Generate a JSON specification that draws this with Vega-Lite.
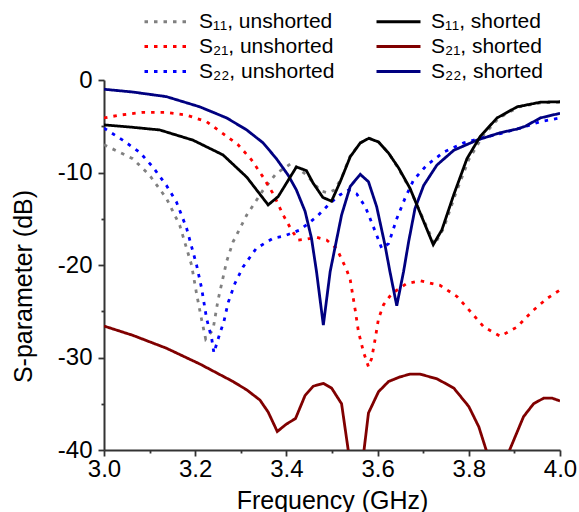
{
  "$schema": "https://vega.github.io/schema/vega-lite/v6.json",
  "autosize": {"type": "none"},
  "width": 456,
  "height": 370,
  "padding": {"left": 104, "top": 80, "right": 19, "bottom": 62},
  "config": {
    "view": {"stroke": null},
    "font": "Liberation Sans",
    "axis": {"grid": false, "domainColor": "#333333", "domainWidth": 2, "tickColor": "#333333", "tickWidth": 1.8, "labelColor": "#000000", "titleColor": "#000000", "labelFont": "Liberation Sans", "titleFont": "Liberation Sans", "titleFontWeight": "normal"},
    "legend": {"orient": "none", "legendX": 50, "legendY": -71, "columns": 2, "title": null, "symbolType": "M-2,0H2", "symbolSize": 484, "symbolStrokeWidth": 3, "symbolFillColor": "transparent", "labelFontSize": 21, "labelFont": "Liberation Sans", "labelColor": "#000000", "labelOffset": 20, "columnPadding": 35, "rowPadding": 2, "padding": 0}
  },
  "datasets": {
    "curves": [
      {"series": "S₁₁, unshorted", "f": 3.000, "db": -7.0},
      {"series": "S₁₁, unshorted", "f": 3.063, "db": -8.5},
      {"series": "S₁₁, unshorted", "f": 3.100, "db": -10.3},
      {"series": "S₁₁, unshorted", "f": 3.137, "db": -12.8},
      {"series": "S₁₁, unshorted", "f": 3.166, "db": -15.7},
      {"series": "S₁₁, unshorted", "f": 3.192, "db": -20.0},
      {"series": "S₁₁, unshorted", "f": 3.203, "db": -23.1},
      {"series": "S₁₁, unshorted", "f": 3.214, "db": -25.9},
      {"series": "S₁₁, unshorted", "f": 3.223, "db": -28.0},
      {"series": "S₁₁, unshorted", "f": 3.239, "db": -27.0},
      {"series": "S₁₁, unshorted", "f": 3.250, "db": -23.8},
      {"series": "S₁₁, unshorted", "f": 3.269, "db": -19.6},
      {"series": "S₁₁, unshorted", "f": 3.283, "db": -17.5},
      {"series": "S₁₁, unshorted", "f": 3.313, "db": -14.6},
      {"series": "S₁₁, unshorted", "f": 3.349, "db": -11.9},
      {"series": "S₁₁, unshorted", "f": 3.378, "db": -10.1},
      {"series": "S₁₁, unshorted", "f": 3.411, "db": -9.0},
      {"series": "S₁₁, unshorted", "f": 3.445, "db": -10.3},
      {"series": "S₁₁, unshorted", "f": 3.475, "db": -12.0},
      {"series": "S₁₁, unshorted", "f": 3.492, "db": -12.2},
      {"series": "S₁₁, unshorted", "f": 3.505, "db": -11.9},
      {"series": "S₁₁, unshorted", "f": 3.520, "db": -10.7},
      {"series": "S₁₁, unshorted", "f": 3.540, "db": -8.2},
      {"series": "S₁₁, unshorted", "f": 3.562, "db": -6.8},
      {"series": "S₁₁, unshorted", "f": 3.581, "db": -6.3},
      {"series": "S₁₁, unshorted", "f": 3.602, "db": -6.7},
      {"series": "S₁₁, unshorted", "f": 3.624, "db": -7.9},
      {"series": "S₁₁, unshorted", "f": 3.646, "db": -9.6},
      {"series": "S₁₁, unshorted", "f": 3.671, "db": -11.8},
      {"series": "S₁₁, unshorted", "f": 3.725, "db": -17.8},
      {"series": "S₁₁, unshorted", "f": 3.745, "db": -16.0},
      {"series": "S₁₁, unshorted", "f": 3.771, "db": -12.3},
      {"series": "S₁₁, unshorted", "f": 3.800, "db": -8.6},
      {"series": "S₁₁, unshorted", "f": 3.830, "db": -6.1},
      {"series": "S₁₁, unshorted", "f": 3.866, "db": -4.1},
      {"series": "S₁₁, unshorted", "f": 3.910, "db": -2.9},
      {"series": "S₁₁, unshorted", "f": 3.960, "db": -2.45},
      {"series": "S₁₁, unshorted", "f": 4.000, "db": -2.4},

      {"series": "S₂₁, unshorted", "f": 3.000, "db": -4.1},
      {"series": "S₂₁, unshorted", "f": 3.034, "db": -3.8},
      {"series": "S₂₁, unshorted", "f": 3.085, "db": -3.5},
      {"series": "S₂₁, unshorted", "f": 3.137, "db": -3.5},
      {"series": "S₂₁, unshorted", "f": 3.181, "db": -3.8},
      {"series": "S₂₁, unshorted", "f": 3.225, "db": -4.5},
      {"series": "S₂₁, unshorted", "f": 3.261, "db": -5.8},
      {"series": "S₂₁, unshorted", "f": 3.294, "db": -7.0},
      {"series": "S₂₁, unshorted", "f": 3.323, "db": -8.6},
      {"series": "S₂₁, unshorted", "f": 3.349, "db": -10.5},
      {"series": "S₂₁, unshorted", "f": 3.371, "db": -12.3},
      {"series": "S₂₁, unshorted", "f": 3.393, "db": -14.6},
      {"series": "S₂₁, unshorted", "f": 3.411, "db": -16.2},
      {"series": "S₂₁, unshorted", "f": 3.426, "db": -17.3},
      {"series": "S₂₁, unshorted", "f": 3.445, "db": -17.2},
      {"series": "S₂₁, unshorted", "f": 3.466, "db": -17.0},
      {"series": "S₂₁, unshorted", "f": 3.488, "db": -17.3},
      {"series": "S₂₁, unshorted", "f": 3.510, "db": -18.2},
      {"series": "S₂₁, unshorted", "f": 3.532, "db": -20.5},
      {"series": "S₂₁, unshorted", "f": 3.540, "db": -21.6},
      {"series": "S₂₁, unshorted", "f": 3.551, "db": -24.9},
      {"series": "S₂₁, unshorted", "f": 3.558, "db": -27.2},
      {"series": "S₂₁, unshorted", "f": 3.569, "db": -29.4},
      {"series": "S₂₁, unshorted", "f": 3.580, "db": -31.0},
      {"series": "S₂₁, unshorted", "f": 3.587, "db": -30.1},
      {"series": "S₂₁, unshorted", "f": 3.595, "db": -27.9},
      {"series": "S₂₁, unshorted", "f": 3.602, "db": -25.8},
      {"series": "S₂₁, unshorted", "f": 3.613, "db": -24.3},
      {"series": "S₂₁, unshorted", "f": 3.631, "db": -23.1},
      {"series": "S₂₁, unshorted", "f": 3.664, "db": -22.0},
      {"series": "S₂₁, unshorted", "f": 3.693, "db": -21.7},
      {"series": "S₂₁, unshorted", "f": 3.737, "db": -22.2},
      {"series": "S₂₁, unshorted", "f": 3.774, "db": -23.4},
      {"series": "S₂₁, unshorted", "f": 3.803, "db": -25.0},
      {"series": "S₂₁, unshorted", "f": 3.833, "db": -26.7},
      {"series": "S₂₁, unshorted", "f": 3.869, "db": -27.7},
      {"series": "S₂₁, unshorted", "f": 3.906, "db": -26.7},
      {"series": "S₂₁, unshorted", "f": 3.939, "db": -25.0},
      {"series": "S₂₁, unshorted", "f": 3.972, "db": -23.6},
      {"series": "S₂₁, unshorted", "f": 4.000, "db": -22.7},

      {"series": "S₂₂, unshorted", "f": 3.000, "db": -5.2},
      {"series": "S₂₂, unshorted", "f": 3.041, "db": -6.5},
      {"series": "S₂₂, unshorted", "f": 3.078, "db": -7.8},
      {"series": "S₂₂, unshorted", "f": 3.107, "db": -9.4},
      {"series": "S₂₂, unshorted", "f": 3.137, "db": -11.4},
      {"series": "S₂₂, unshorted", "f": 3.159, "db": -13.2},
      {"series": "S₂₂, unshorted", "f": 3.181, "db": -16.0},
      {"series": "S₂₂, unshorted", "f": 3.203, "db": -20.0},
      {"series": "S₂₂, unshorted", "f": 3.214, "db": -22.5},
      {"series": "S₂₂, unshorted", "f": 3.225, "db": -25.8},
      {"series": "S₂₂, unshorted", "f": 3.236, "db": -27.9},
      {"series": "S₂₂, unshorted", "f": 3.241, "db": -29.5},
      {"series": "S₂₂, unshorted", "f": 3.254, "db": -27.4},
      {"series": "S₂₂, unshorted", "f": 3.263, "db": -26.1},
      {"series": "S₂₂, unshorted", "f": 3.272, "db": -24.1},
      {"series": "S₂₂, unshorted", "f": 3.287, "db": -22.0},
      {"series": "S₂₂, unshorted", "f": 3.305, "db": -20.2},
      {"series": "S₂₂, unshorted", "f": 3.334, "db": -18.2},
      {"series": "S₂₂, unshorted", "f": 3.371, "db": -17.1},
      {"series": "S₂₂, unshorted", "f": 3.393, "db": -16.9},
      {"series": "S₂₂, unshorted", "f": 3.430, "db": -16.2},
      {"series": "S₂₂, unshorted", "f": 3.466, "db": -14.8},
      {"series": "S₂₂, unshorted", "f": 3.496, "db": -13.3},
      {"series": "S₂₂, unshorted", "f": 3.518, "db": -12.4},
      {"series": "S₂₂, unshorted", "f": 3.536, "db": -11.9},
      {"series": "S₂₂, unshorted", "f": 3.554, "db": -12.3},
      {"series": "S₂₂, unshorted", "f": 3.573, "db": -13.7},
      {"series": "S₂₂, unshorted", "f": 3.595, "db": -16.4},
      {"series": "S₂₂, unshorted", "f": 3.609, "db": -18.2},
      {"series": "S₂₂, unshorted", "f": 3.624, "db": -17.7},
      {"series": "S₂₂, unshorted", "f": 3.642, "db": -15.0},
      {"series": "S₂₂, unshorted", "f": 3.660, "db": -12.8},
      {"series": "S₂₂, unshorted", "f": 3.679, "db": -10.8},
      {"series": "S₂₂, unshorted", "f": 3.708, "db": -9.2},
      {"series": "S₂₂, unshorted", "f": 3.745, "db": -7.8},
      {"series": "S₂₂, unshorted", "f": 3.789, "db": -6.8},
      {"series": "S₂₂, unshorted", "f": 3.825, "db": -6.3},
      {"series": "S₂₂, unshorted", "f": 3.869, "db": -5.8},
      {"series": "S₂₂, unshorted", "f": 3.913, "db": -5.2},
      {"series": "S₂₂, unshorted", "f": 3.957, "db": -4.5},
      {"series": "S₂₂, unshorted", "f": 4.000, "db": -4.1},

      {"series": "S₂₁, shorted", "f": 3.000, "db": -26.6},
      {"series": "S₂₁, shorted", "f": 3.063, "db": -27.6},
      {"series": "S₂₁, shorted", "f": 3.137, "db": -29.0},
      {"series": "S₂₁, shorted", "f": 3.210, "db": -30.7},
      {"series": "S₂₁, shorted", "f": 3.283, "db": -32.6},
      {"series": "S₂₁, shorted", "f": 3.313, "db": -33.5},
      {"series": "S₂₁, shorted", "f": 3.342, "db": -34.6},
      {"series": "S₂₁, shorted", "f": 3.360, "db": -35.9},
      {"series": "S₂₁, shorted", "f": 3.380, "db": -38.0},
      {"series": "S₂₁, shorted", "f": 3.400, "db": -37.2},
      {"series": "S₂₁, shorted", "f": 3.420, "db": -36.6},
      {"series": "S₂₁, shorted", "f": 3.441, "db": -34.1},
      {"series": "S₂₁, shorted", "f": 3.459, "db": -33.1},
      {"series": "S₂₁, shorted", "f": 3.481, "db": -32.8},
      {"series": "S₂₁, shorted", "f": 3.499, "db": -33.3},
      {"series": "S₂₁, shorted", "f": 3.521, "db": -35.0},
      {"series": "S₂₁, shorted", "f": 3.537, "db": -40.5},
      {"series": "S₂₁, shorted", "f": 3.553, "db": -50.0},
      {"series": "S₂₁, shorted", "f": 3.569, "db": -40.5},
      {"series": "S₂₁, shorted", "f": 3.580, "db": -36.0},
      {"series": "S₂₁, shorted", "f": 3.602, "db": -33.7},
      {"series": "S₂₁, shorted", "f": 3.624, "db": -32.6},
      {"series": "S₂₁, shorted", "f": 3.649, "db": -32.1},
      {"series": "S₂₁, shorted", "f": 3.671, "db": -31.8},
      {"series": "S₂₁, shorted", "f": 3.693, "db": -31.8},
      {"series": "S₂₁, shorted", "f": 3.730, "db": -32.3},
      {"series": "S₂₁, shorted", "f": 3.767, "db": -33.3},
      {"series": "S₂₁, shorted", "f": 3.800, "db": -35.3},
      {"series": "S₂₁, shorted", "f": 3.822, "db": -37.5},
      {"series": "S₂₁, shorted", "f": 3.840, "db": -40.3},
      {"series": "S₂₁, shorted", "f": 3.863, "db": -48.0},
      {"series": "S₂₁, shorted", "f": 3.887, "db": -40.3},
      {"series": "S₂₁, shorted", "f": 3.920, "db": -36.4},
      {"series": "S₂₁, shorted", "f": 3.942, "db": -35.0},
      {"series": "S₂₁, shorted", "f": 3.964, "db": -34.4},
      {"series": "S₂₁, shorted", "f": 3.983, "db": -34.4},
      {"series": "S₂₁, shorted", "f": 4.000, "db": -34.7},

      {"series": "S₂₂, shorted", "f": 3.000, "db": -1.0},
      {"series": "S₂₂, shorted", "f": 3.063, "db": -1.3},
      {"series": "S₂₂, shorted", "f": 3.137, "db": -1.8},
      {"series": "S₂₂, shorted", "f": 3.210, "db": -2.9},
      {"series": "S₂₂, shorted", "f": 3.269, "db": -4.1},
      {"series": "S₂₂, shorted", "f": 3.313, "db": -5.4},
      {"series": "S₂₂, shorted", "f": 3.349, "db": -6.8},
      {"series": "S₂₂, shorted", "f": 3.378, "db": -8.5},
      {"series": "S₂₂, shorted", "f": 3.404, "db": -10.3},
      {"series": "S₂₂, shorted", "f": 3.422, "db": -11.9},
      {"series": "S₂₂, shorted", "f": 3.441, "db": -14.2},
      {"series": "S₂₂, shorted", "f": 3.455, "db": -17.1},
      {"series": "S₂₂, shorted", "f": 3.466, "db": -20.7},
      {"series": "S₂₂, shorted", "f": 3.481, "db": -26.5},
      {"series": "S₂₂, shorted", "f": 3.496, "db": -20.7},
      {"series": "S₂₂, shorted", "f": 3.521, "db": -14.6},
      {"series": "S₂₂, shorted", "f": 3.540, "db": -11.5},
      {"series": "S₂₂, shorted", "f": 3.562, "db": -10.2},
      {"series": "S₂₂, shorted", "f": 3.580, "db": -11.0},
      {"series": "S₂₂, shorted", "f": 3.598, "db": -13.7},
      {"series": "S₂₂, shorted", "f": 3.616, "db": -17.8},
      {"series": "S₂₂, shorted", "f": 3.627, "db": -20.7},
      {"series": "S₂₂, shorted", "f": 3.642, "db": -24.4},
      {"series": "S₂₂, shorted", "f": 3.657, "db": -20.7},
      {"series": "S₂₂, shorted", "f": 3.668, "db": -17.5},
      {"series": "S₂₂, shorted", "f": 3.682, "db": -13.9},
      {"series": "S₂₂, shorted", "f": 3.701, "db": -11.4},
      {"series": "S₂₂, shorted", "f": 3.730, "db": -9.2},
      {"series": "S₂₂, shorted", "f": 3.767, "db": -7.6},
      {"series": "S₂₂, shorted", "f": 3.818, "db": -6.5},
      {"series": "S₂₂, shorted", "f": 3.869, "db": -5.7},
      {"series": "S₂₂, shorted", "f": 3.906, "db": -5.3},
      {"series": "S₂₂, shorted", "f": 3.924, "db": -5.0},
      {"series": "S₂₂, shorted", "f": 3.957, "db": -4.1},
      {"series": "S₂₂, shorted", "f": 4.000, "db": -3.6},

      {"series": "S₁₁, shorted", "f": 3.000, "db": -4.85},
      {"series": "S₁₁, shorted", "f": 3.060, "db": -5.1},
      {"series": "S₁₁, shorted", "f": 3.122, "db": -5.4},
      {"series": "S₁₁, shorted", "f": 3.195, "db": -6.5},
      {"series": "S₁₁, shorted", "f": 3.261, "db": -8.1},
      {"series": "S₁₁, shorted", "f": 3.313, "db": -10.5},
      {"series": "S₁₁, shorted", "f": 3.360, "db": -13.5},
      {"series": "S₁₁, shorted", "f": 3.382, "db": -12.6},
      {"series": "S₁₁, shorted", "f": 3.422, "db": -9.4},
      {"series": "S₁₁, shorted", "f": 3.444, "db": -9.8},
      {"series": "S₁₁, shorted", "f": 3.458, "db": -11.1},
      {"series": "S₁₁, shorted", "f": 3.480, "db": -12.7},
      {"series": "S₁₁, shorted", "f": 3.499, "db": -13.1},
      {"series": "S₁₁, shorted", "f": 3.518, "db": -11.0},
      {"series": "S₁₁, shorted", "f": 3.540, "db": -8.3},
      {"series": "S₁₁, shorted", "f": 3.562, "db": -6.8},
      {"series": "S₁₁, shorted", "f": 3.581, "db": -6.3},
      {"series": "S₁₁, shorted", "f": 3.602, "db": -6.7},
      {"series": "S₁₁, shorted", "f": 3.624, "db": -7.9},
      {"series": "S₁₁, shorted", "f": 3.646, "db": -9.5},
      {"series": "S₁₁, shorted", "f": 3.671, "db": -11.7},
      {"series": "S₁₁, shorted", "f": 3.722, "db": -17.8},
      {"series": "S₁₁, shorted", "f": 3.741, "db": -16.2},
      {"series": "S₁₁, shorted", "f": 3.767, "db": -12.4},
      {"series": "S₁₁, shorted", "f": 3.796, "db": -8.5},
      {"series": "S₁₁, shorted", "f": 3.825, "db": -6.1},
      {"series": "S₁₁, shorted", "f": 3.862, "db": -4.1},
      {"series": "S₁₁, shorted", "f": 3.906, "db": -2.9},
      {"series": "S₁₁, shorted", "f": 3.957, "db": -2.4},
      {"series": "S₁₁, shorted", "f": 4.000, "db": -2.35}
    ]
  },
  "data": {"name": "curves"},
  "layer": [
    {
      "mark": {"type": "line", "clip": true, "strokeCap": "butt"},
      "encoding": {
        "x": {"field": "f", "type": "quantitative", "scale": {"domain": [3, 4], "nice": false, "zero": false},
          "axis": {"orient": "bottom", "values": [3.0, 3.2, 3.4, 3.6, 3.8, 4.0], "format": ".1f", "tickSize": 6, "labelFontSize": 24, "labelPadding": 1, "labelFlush": false, "labelOverlap": false,
            "title": "Frequency (GHz)", "titleFontSize": 25, "titleBaseline": "alphabetic", "titleX": 228, "titleY": 58, "titleAnchor": "middle"}},
        "y": {"field": "db", "type": "quantitative", "scale": {"domain": [-40, 0], "nice": false, "zero": false},
          "axis": {"orient": "left", "values": [-40, -30, -20, -10, 0], "labelExpr": "datum.value + ''", "tickSize": 6, "labelFontSize": 24, "labelPadding": 6, "labelFlush": false, "labelOverlap": false,
            "title": "S-parameter (dB)", "titleFontSize": 25, "titleBaseline": "alphabetic", "titleAngle": -90, "titleX": -73, "titleY": 206, "titleAnchor": "middle"}},
        "color": {"field": "series", "type": "nominal",
          "scale": {"domain": ["S₁₁, unshorted", "S₂₁, unshorted", "S₂₂, unshorted", "S₁₁, shorted", "S₂₁, shorted", "S₂₂, shorted"],
            "range": ["#808080", "#ff0000", "#0000ff", "#000000", "#800000", "#000080"]},
          "legend": {}},
        "strokeDash": {"field": "series", "type": "nominal",
          "scale": {"domain": ["S₁₁, unshorted", "S₂₁, unshorted", "S₂₂, unshorted", "S₁₁, shorted", "S₂₁, shorted", "S₂₂, shorted"],
            "range": [[3.5, 6], [3.5, 6], [3.5, 6], [1, 0], [1, 0], [1, 0]]},
          "legend": {}},
        "strokeWidth": {"value": 2.8},
        "order": {"field": "f", "type": "quantitative"}
      }
    },
    {
      "mark": {"type": "line", "opacity": 0},
      "encoding": {
        "x": {"field": "f", "type": "quantitative",
          "axis": {"orient": "bottom", "values": [3.1, 3.3, 3.5, 3.7, 3.9], "tickSize": 3, "labels": false, "domain": false, "title": null}},
        "y": {"field": "db", "type": "quantitative",
          "axis": {"orient": "left", "values": [-35, -25, -15, -5], "tickSize": 3, "labels": false, "domain": false, "title": null}},
        "detail": {"field": "series", "type": "nominal"}
      }
    }
  ],
  "resolve": {"axis": {"x": "independent", "y": "independent"}}
}
